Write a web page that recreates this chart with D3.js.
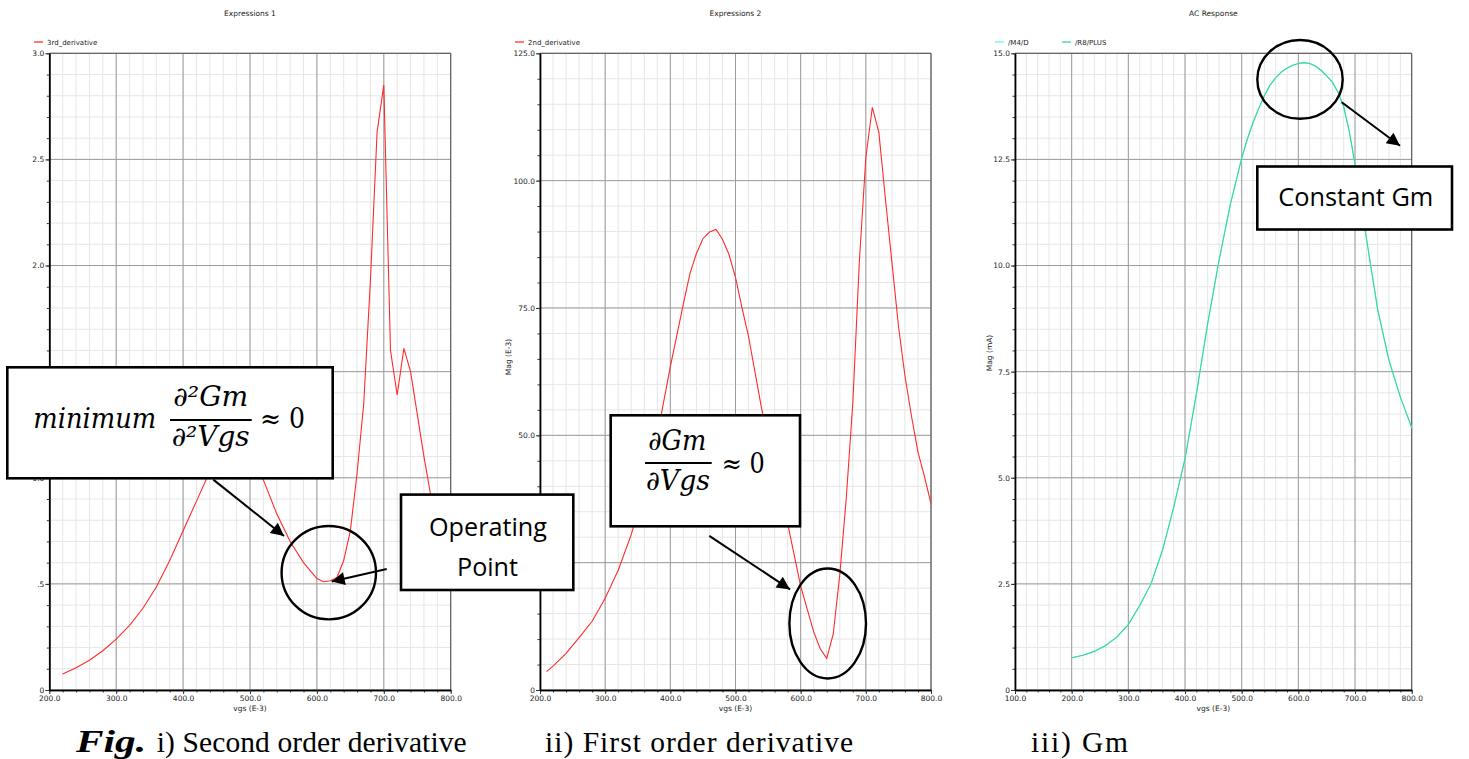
<!DOCTYPE html>
<html>
<head>
<meta charset="utf-8">
<script src="https://cdn.jsdelivr.net/npm/d3@7"></script>
<style>
  html, body { margin: 0; padding: 0; background: #fff; overflow: hidden; }
  svg { display: block; }
</style>
</head>
<body>
<svg id="fig" width="1469" height="759"></svg>
<script>
// ---- Panel i: 3rd_derivative expression vs vgs (mV) ----
const vgs1 = [220,240,260,280,300,320,340,360,380,400,420,440,460,480,500,520,540,560,580,600,
              610,620,630,640,650,660,670,680,690,700,710,720,730,740,750,760,770,780,790,800];
const thirdDeriv = [0.075,0.105,0.14,0.185,0.24,0.305,0.385,0.485,0.61,0.75,0.89,1.03,1.15,1.18,1.10,0.99,0.83,0.70,0.60,0.525,
                    0.51,0.515,0.53,0.61,0.75,1.02,1.35,1.93,2.63,2.85,1.60,1.39,1.61,1.50,1.30,1.10,0.92,0.80,0.68,0.57];

// ---- Panel ii: 2nd_derivative expression vs vgs (mV), Mag (E-3) ----
const vgs2 = [210,220,240,260,280,300,320,340,360,380,400,420,430,440,450,460,470,480,490,500,510,520,540,560,580,600,620,
              630,640,650,660,670,680,690,700,710,720,730,740,750,760,770,780,790,800];
const secondDeriv = [3.6,4.7,7.2,10.3,13.5,18.0,23.5,30.5,39.5,50.0,63.5,75.8,81.7,85.7,88.6,89.9,90.4,88.5,85.5,81.0,75.0,69.4,55.3,44.0,32.7,20.4,11.4,
                     8.1,6.2,11.0,22.6,37.7,56.3,84.0,104.5,114.4,109.5,96.5,84.0,71.5,61.7,53.8,46.7,41.9,36.6];

// ---- Panel iii: AC response Gm vs vgs (mV), Mag (mA) ----
const vgs3 = [200,220,240,260,280,300,320,340,360,380,400,420,440,460,480,
              500,510,520,530,540,550,560,570,580,590,600,610,620,630,640,650,660,670,680,690,700,710,720,
              740,760,780,800];
const gmR8Plus = [0.76,0.82,0.91,1.05,1.25,1.54,1.99,2.50,3.28,4.30,5.45,6.97,8.63,10.12,11.44,
                  12.53,12.98,13.37,13.70,14.00,14.25,14.42,14.56,14.65,14.72,14.76,14.78,14.76,14.70,14.60,14.47,14.32,14.08,13.74,13.15,12.39,11.50,10.65,
                  8.96,7.76,6.90,6.18];
const gmM4D = gmR8Plus; // /M4/D traces the same current as /R8/PLUS

// axis tick steps and labels
const xTickStep = 100, xMinorStep = 20;
const panelTitles = ["Expressions 1", "Expressions 2", "AC Response"];
const legendNames = [["3rd_derivative"], ["2nd_derivative"], ["/M4/D", "/R8/PLUS"]];
const captions = ["i) Second order derivative", "ii) First order derivative", "iii) Gm"];

const svg = d3.select("#fig");
svg.append("rect").attr("width", 1469).attr("height", 759).attr("fill", "#fff");

const PLOT_TOP = 53.3, PLOT_BOTTOM = 690;
const SANS = "'DejaVu Sans', sans-serif";
const RED = "#ff2b2b", GREEN = "#3ad98c", CYAN = "#6ff2f2";

function fmtOne(d) { return d === 0 ? "0" : d.toFixed(1); }

function drawPanel(p) {
  const g = svg.append("g");
  const x = d3.scaleLinear().domain(p.xDomain).range([p.left, p.right]);
  const y = d3.scaleLinear().domain(p.yDomain).range([PLOT_BOTTOM, PLOT_TOP]);

  const xMajor = d3.range(p.xDomain[0], p.xDomain[1] + 1e-6, xTickStep);
  const xMinor = d3.range(p.xDomain[0], p.xDomain[1] + 1e-6, xMinorStep);
  const yMajor = d3.range(0, p.yDomain[1] + 1e-6, p.yStep);
  const yMinor = d3.range(0, p.yDomain[1] + 1e-6, p.yStep / 5);

  // grid
  const grid = g.append("g");
  grid.selectAll(".vmin").data(xMinor).join("line")
    .attr("x1", d => x(d)).attr("x2", d => x(d)).attr("y1", PLOT_TOP).attr("y2", PLOT_BOTTOM)
    .attr("stroke", "#e6e6e6").attr("stroke-width", 1);
  grid.selectAll(".hmin").data(yMinor).join("line")
    .attr("x1", p.left).attr("x2", p.right).attr("y1", d => y(d)).attr("y2", d => y(d))
    .attr("stroke", "#e6e6e6").attr("stroke-width", 1);
  grid.selectAll(".vmaj").data(xMajor).join("line")
    .attr("x1", d => x(d)).attr("x2", d => x(d)).attr("y1", PLOT_TOP).attr("y2", PLOT_BOTTOM)
    .attr("stroke", "#9c9c9c").attr("stroke-width", 1);
  grid.selectAll(".hmaj").data(yMajor).join("line")
    .attr("x1", p.left).attr("x2", p.right).attr("y1", d => y(d)).attr("y2", d => y(d))
    .attr("stroke", "#9c9c9c").attr("stroke-width", 1);

  // frame (top & right)
  g.append("path")
    .attr("d", `M${p.left},${PLOT_TOP}H${p.right}V${PLOT_BOTTOM}`)
    .attr("fill", "none").attr("stroke", "#555").attr("stroke-width", 1);

  // axes
  const xa = g.append("g").attr("transform", `translate(0,${PLOT_BOTTOM})`);
  xa.append("g").call(d3.axisBottom(x).tickValues(xMinor).tickSize(2.5).tickSizeOuter(0).tickFormat(""));
  xa.append("g").call(d3.axisBottom(x).tickValues(xMajor).tickSize(4).tickSizeOuter(0).tickPadding(2)
    .tickFormat(d => d.toFixed(1)));
  const ya = g.append("g").attr("transform", `translate(${p.left},0)`);
  ya.append("g").call(d3.axisLeft(y).tickValues(yMinor).tickSize(2.5).tickSizeOuter(0).tickFormat(""));
  ya.append("g").call(d3.axisLeft(y).tickValues(yMajor).tickSize(4).tickSizeOuter(0).tickPadding(1)
    .tickFormat(p.yFormat));
  g.selectAll(".domain").attr("stroke", "#000").attr("stroke-width", 1.4);
  g.selectAll(".tick line").attr("stroke", "#333");
  g.selectAll(".tick text").attr("font-family", SANS).attr("font-size", 7.5).attr("fill", "#222");

  // axis titles
  g.append("text").attr("x", (p.left + p.right) / 2).attr("y", 711)
    .attr("text-anchor", "middle").attr("font-family", SANS).attr("font-size", 7.5).attr("fill", "#222")
    .text("vgs (E-3)");
  if (p.yLabel) {
    g.append("text").attr("transform", `translate(${p.yLabelX},${p.yLabelY}) rotate(-90)`)
      .attr("text-anchor", "middle").attr("font-family", SANS).attr("font-size", 7.5).attr("fill", "#222")
      .text(p.yLabel);
  }
  // panel title
  g.append("text").attr("x", (p.left + p.right) / 2).attr("y", 16)
    .attr("text-anchor", "middle").attr("font-family", SANS).attr("font-size", 7.5).attr("fill", "#222")
    .text(p.title);

  // legend
  p.series.forEach((s, i) => {
    const lx = p.legendX + i * p.legendGap;
    g.append("line").attr("x1", lx).attr("x2", lx + 9).attr("y1", 42).attr("y2", 42)
      .attr("stroke", s.color).attr("stroke-width", 1.6).attr("opacity", 0.8);
    g.append("text").attr("x", lx + 13).attr("y", 44.5)
      .attr("font-family", SANS).attr("font-size", 7).attr("fill", "#222").text(s.name);
  });

  // traces
  const line = d3.line().x(d => x(d[0])).y(d => y(d[1]));
  p.series.forEach(s => {
    g.append("path").datum(d3.zip(s.xs, s.ys))
      .attr("d", line).attr("fill", "none").attr("stroke", s.color).attr("stroke-width", 1.1);
  });
}

drawPanel({
  title: panelTitles[0], left: 49.3, right: 450.7, xDomain: [200, 800], yDomain: [0, 3.0], yStep: 0.5,
  yFormat: d => d === 0 ? "0" : d.toFixed(1).replace(/^0/, ""),
  legendX: 34, legendGap: 0,
  series: [{ name: legendNames[0][0], color: RED, xs: vgs1, ys: thirdDeriv }]
});
drawPanel({
  title: panelTitles[1], left: 540, right: 931, xDomain: [200, 800], yDomain: [0, 125], yStep: 25,
  yFormat: fmtOne, yLabel: "Mag (E-3)", yLabelX: 510.5, yLabelY: 357,
  legendX: 515, legendGap: 0,
  series: [{ name: legendNames[1][0], color: RED, xs: vgs2, ys: secondDeriv }]
});
drawPanel({
  title: panelTitles[2], left: 1015, right: 1411.7, xDomain: [100, 800], yDomain: [0, 15], yStep: 2.5,
  yFormat: fmtOne, yLabel: "Mag (mA)", yLabelX: 991.5, yLabelY: 353,
  legendX: 995, legendGap: 67,
  series: [
    { name: legendNames[2][0], color: CYAN, xs: vgs3, ys: gmM4D },
    { name: legendNames[2][1], color: GREEN, xs: vgs3, ys: gmR8Plus }
  ]
});

// ---- callouts ----
const ann = svg.append("g");
const defs = svg.append("defs");
defs.append("marker").attr("id", "head").attr("viewBox", "0 0 10 10")
  .attr("refX", 10).attr("refY", 5).attr("markerWidth", 17).attr("markerHeight", 13)
  .attr("markerUnits", "userSpaceOnUse").attr("orient", "auto")
  .append("path").attr("d", "M0,0L10,5L0,10Z").attr("fill", "#000");

function box(x0, y0, x1, y1) {
  ann.append("rect").attr("x", x0).attr("y", y0).attr("width", x1 - x0).attr("height", y1 - y0)
    .attr("fill", "#fff").attr("stroke", "#000").attr("stroke-width", 2.6);
}
function arrow(x0, y0, x1, y1) {
  ann.append("line").attr("x1", x0).attr("y1", y0).attr("x2", x1).attr("y2", y1)
    .attr("stroke", "#000").attr("stroke-width", 2).attr("marker-end", "url(#head)");
}
function ring(cx, cy, rx, ry) {
  ann.append("ellipse").attr("cx", cx).attr("cy", cy).attr("rx", rx).attr("ry", ry)
    .attr("fill", "none").attr("stroke", "#000").attr("stroke-width", 2.4);
}
function label(txt, x, y, opts) {
  const t = ann.append("text").attr("x", x).attr("y", y)
    .style("font-family", opts.family).attr("font-size", opts.size).attr("fill", "#000")
    .attr("font-style", opts.italic ? "italic" : "normal")
    .attr("font-weight", opts.bold ? "bold" : "normal").text(txt);
  if (opts.width) t.attr("textLength", opts.width).attr("lengthAdjust", opts.adjust || "spacingAndGlyphs");
  return t;
}
const MATH = "'DejaVu Serif', serif";
const CAL = "'Open Sans', sans-serif";

// second-derivative callout
box(7.3, 367.3, 332.7, 478.3);
label("minimum", 33.3, 427.7, { family: MATH, size: 27, italic: true, width: 123 });
label("\u2202\u00B2Gm", 173.3, 406, { family: MATH, size: 27, italic: true, width: 75 });
ann.append("line").attr("x1", 170).attr("x2", 251.7).attr("y1", 420).attr("y2", 420)
  .attr("stroke", "#000").attr("stroke-width", 2);
label("\u2202\u00B2Vgs", 171.7, 446, { family: MATH, size: 27, italic: true, width: 78 });
label("\u2248 0", 260, 427.7, { family: MATH, size: 27, width: 45 });
arrow(213.3, 479.6, 284, 536);
ring(328.8, 572.7, 47.2, 46.7);

// operating point callout
box(401, 494.6, 573.3, 590);
label("Operating", 429, 536, { family: CAL, size: 25, width: 118 });
label("Point", 457, 575.5, { family: CAL, size: 25, width: 61 });
arrow(386.7, 569, 331.7, 581.4);

// first-derivative callout
box(610.7, 415.3, 800, 526.3);
label("\u2202Gm", 648.3, 449.7, { family: MATH, size: 27, italic: true, width: 58 });
ann.append("line").attr("x1", 645).attr("x2", 711.7).attr("y1", 463).attr("y2", 463)
  .attr("stroke", "#000").attr("stroke-width", 2);
label("\u2202Vgs", 646, 490, { family: MATH, size: 27, italic: true, width: 64 });
label("\u2248 0", 721.7, 473, { family: MATH, size: 27, width: 43 });
arrow(709.3, 535.8, 790, 589.4);
ring(827.7, 623.5, 38.3, 55);

// constant Gm callout
ring(1300, 79.4, 42.7, 39.4);
arrow(1341.7, 102.2, 1400, 145.7);
box(1257.3, 166.5, 1452, 229.5);
label("Constant Gm", 1278.3, 206, { family: CAL, size: 25, width: 155 });

// ---- figure captions ----
const SERIF = "Liberation Serif, serif";
label("Fig.", 76, 751.5, { family: SERIF, size: 32, italic: true, bold: true, width: 70 });
label(captions[0], 156.7, 751.5, { family: SERIF, size: 29.5, width: 310, adjust: "spacing" });
label(captions[1], 545, 751.5, { family: SERIF, size: 29.5, width: 308, adjust: "spacing" });
label(captions[2], 1031, 751.5, { family: SERIF, size: 29.5, width: 97, adjust: "spacing" });
</script>
</body>
</html>
